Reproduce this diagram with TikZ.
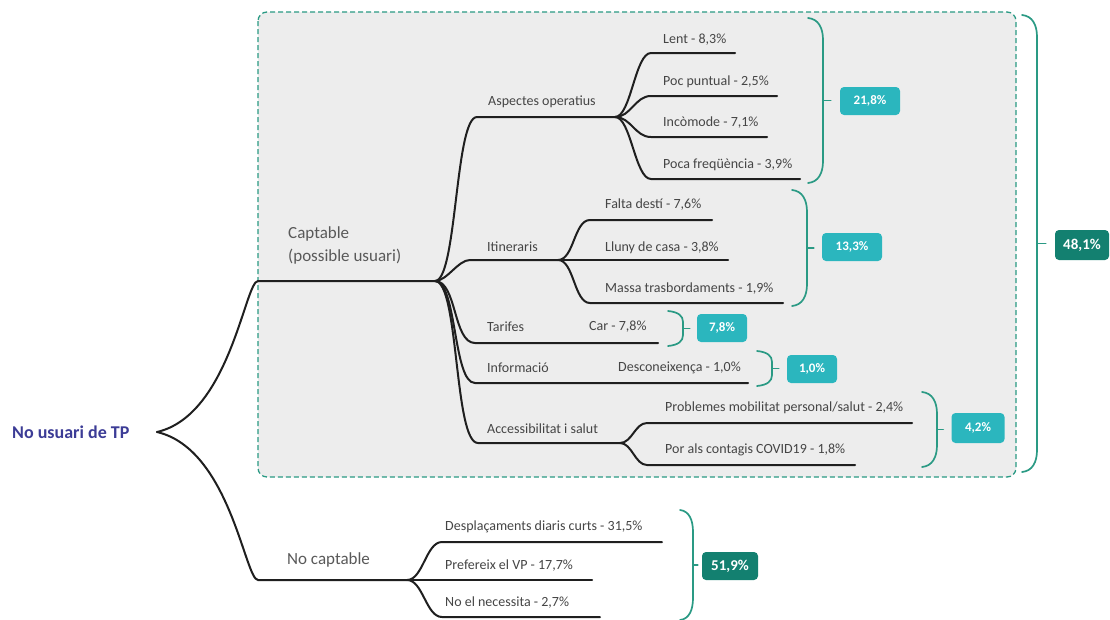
\documentclass[tikz,border=0pt]{standalone}
\usepackage{fontspec}
\setmainfont{Carlito}
\usepackage{xcolor}
\usepackage{tikz}
\usetikzlibrary{positioning,calc}
\definecolor{tealline}{HTML}{2A9A84}
\definecolor{panelgrey}{HTML}{EDEDED}
\definecolor{pctlight}{HTML}{2BB6BE}
\definecolor{pctdark}{HTML}{138070}
\definecolor{rootblue}{HTML}{3C3C96}
\definecolor{labelgrey}{HTML}{454545}
% curly bracket closing a group: [width]{x of the ends}{top}{bottom}{tip name}
\newcommand{\pctbrace}[5][15]{%
  \pgfmathsetmacro{\bx}{#2+#1}
  \pgfmathsetmacro{\bm}{(#3+#4)/2}
  \pgfmathsetmacro{\bc}{min(22,(#4-#3)/3.2)}
  \draw[brc] (#2,#3) .. controls (#2+0.7*#1,#3+1) and (\bx,#3+0.45*\bc) .. (\bx,#3+\bc)
    -- (\bx,#4-\bc) .. controls (\bx,#4-0.45*\bc) and (#2+0.7*#1,#4-1) .. (#2,#4);
  \coordinate (#5) at (\bx,\bm);
}

\begin{document}
\begin{tikzpicture}[
  x=1pt, y=-1pt,
  tree/.style={line width=2pt, draw=black!88, line cap=round},
  twig/.style={out=0, in=180, distance=#1},
  twig/.default=16pt,
  brc/.style={line width=1.7pt, draw=tealline, line cap=round},
  leaf/.style={anchor=west, inner sep=0pt, text=labelgrey, font=\fontsize{14}{16}\selectfont},
  group/.style={leaf, text=black!65, align=left, font=\fontsize{17}{23}\selectfont},
  pct/.style={rounded corners=4pt, fill=pctlight, text=white, inner sep=0pt,
              minimum height=28pt, font=\bfseries\fontsize{13}{15}\selectfont},
  total/.style={pct, fill=pctdark, font=\bfseries\fontsize{15}{17}\selectfont}
]
\fill[white] (0,0) rectangle (1110,619);
\useasboundingbox (0,0) rectangle (1110,619);

% panel of the captable group
\draw[tealline, dash pattern=on 5pt off 3pt, line width=1.3pt, fill=panelgrey, rounded corners=9pt]
  (258,12) rectangle (1016,477);

% root
\coordinate (root) at (157,432);
\node[anchor=west, inner sep=0pt, text=rootblue, font=\bfseries\fontsize{18}{20}\selectfont] (nouser) at (12,432) {No usuari de TP};

% captable
\coordinate (cap-in) at (258,281);
\coordinate (cap) at (435,281);
\node[group, anchor=north west] (captable) at (288,226) {Captable\\(possible usuari)};
\draw[tree] (root) .. controls +(73,-17) and +(-13,0) .. (cap-in) -- (cap);

% no captable
\coordinate (ncap-in) at (258,580);
\coordinate (ncap) at (407,580);
\node[group] (nocaptable) at (287,560) {No captable};
\draw[tree] (root) .. controls +(73,17) and +(-13,0) .. (ncap-in) -- (ncap);

% aspectes operatius
\coordinate (aop-in) at (477,117);
\coordinate (aop) at (615,117);
\node[leaf] (aspectes) at (488,102) {Aspectes operatius};
\draw[tree] (cap) to[twig=22pt] (aop-in) -- (aop);
\coordinate (lent-in) at (651,53);   \coordinate (lent-e) at (735,53);
\coordinate (punt-in) at (651,96);   \coordinate (punt-e) at (777,96);
\coordinate (incom-in) at (651,137); \coordinate (incom-e) at (767,137);
\coordinate (freq-in) at (651,179);  \coordinate (freq-e) at (800,179);
\node[leaf] (lent) at (663,40) {Lent - 8,3\%};
\node[leaf] (punt) at (663,82) {Poc puntual - 2,5\%};
\node[leaf] (incom) at (663,123) {Incòmode - 7,1\%};
\node[leaf] (freq) at (663,165) {Poca freqüència - 3,9\%};
\draw[tree] (aop) to[twig] (lent-in) -- (lent-e);
\draw[tree] (aop) to[twig] (punt-in) -- (punt-e);
\draw[tree] (aop) to[twig] (incom-in) -- (incom-e);
\draw[tree] (aop) to[twig] (freq-in) -- (freq-e);

% itineraris
\coordinate (itin-in) at (470,260);
\coordinate (itin) at (558,260);
\node[leaf] (itineraris) at (487,247) {Itineraris};
\draw[tree] (cap) to[twig=12pt] (itin-in) -- (itin);
\coordinate (falta-in) at (590,220); \coordinate (falta-e) at (712,220);
\coordinate (lluny-e) at (728,260);
\coordinate (massa-in) at (590,303); \coordinate (massa-e) at (783,303);
\node[leaf] (falta) at (605,205) {Falta destí - 7,6\%};
\node[leaf] (lluny) at (605,248) {Lluny de casa - 3,8\%};
\node[leaf] (massa) at (605,289) {Massa trasbordaments - 1,9\%};
\draw[tree] (itin) to[twig] (falta-in) -- (falta-e);
\draw[tree] (itin) -- (lluny-e);
\draw[tree] (itin) to[twig] (massa-in) -- (massa-e);

% tarifes
\coordinate (tar-in) at (475,343);
\coordinate (tar-e) at (658,343);
\node[leaf] (tarifes) at (487,327) {Tarifes};
\node[leaf] (car) at (589,327) {Car - 7,8\%};
\draw[tree] (cap) to[twig=22pt] (tar-in) -- (tar-e);

% informacio
\coordinate (inf-in) at (475,383);
\coordinate (inf-e) at (748,383);
\node[leaf] (informacio) at (487,368) {Informació};
\node[leaf] (descon) at (618,368) {Desconeixença - 1,0\%};
\draw[tree] (cap) to[twig=22pt] (inf-in) -- (inf-e);

% accessibilitat i salut
\coordinate (acc-in) at (478,443);
\coordinate (acc) at (620,443);
\node[leaf] (accessib) at (487,429) {Accessibilitat i salut};
\draw[tree] (cap) to[twig=24pt] (acc-in) -- (acc);
\coordinate (prob-in) at (647,423);  \coordinate (prob-e) at (912,423);
\coordinate (covid-in) at (647,465); \coordinate (covid-e) at (855,465);
\node[leaf] (prob) at (665,408) {Problemes mobilitat personal/salut - 2,4\%};
\node[leaf] (covid) at (665,450) {Por als contagis COVID19 - 1,8\%};
\draw[tree] (acc) to[twig=12pt] (prob-in) -- (prob-e);
\draw[tree] (acc) to[twig=12pt] (covid-in) -- (covid-e);

% no captable leaves
\coordinate (desp-in) at (442,542);  \coordinate (desp-e) at (662,542);
\coordinate (pref-e) at (592,580);
\coordinate (nonec-in) at (442,617); \coordinate (nonec-e) at (600,617);
\node[leaf] (desp) at (445,527) {Desplaçaments diaris curts - 31,5\%};
\node[leaf] (pref) at (445,566) {Prefereix el VP - 17,7\%};
\node[leaf] (nonec) at (445,603) {No el necessita - 2,7\%};
\draw[tree] (ncap) to[twig] (desp-in) -- (desp-e);
\draw[tree] (ncap) -- (pref-e);
\draw[tree] (ncap) to[twig] (nonec-in) -- (nonec-e);

% percentages
\node[pct, minimum width=60pt] (p-aop) at (870,101) {21,8\%};
\node[pct, minimum width=60pt] (p-itin) at (852,247) {13,3\%};
\node[pct, minimum width=50pt] (p-tar) at (722,328) {7,8\%};
\node[pct, minimum width=50pt] (p-inf) at (812,369) {1,0\%};
\node[pct, minimum width=53pt, minimum height=30pt] (p-acc) at (978,428) {4,2\%};
\node[total, minimum width=54pt, minimum height=30pt] (t-cap) at (1082,245) {48,1\%};
\node[total, minimum width=56pt] (t-ncap) at (730,566) {51,9\%};

\pctbrace{808}{18}{183}{b-aop}
\pctbrace{792}{190}{306}{b-itin}
\pctbrace{668}{311}{346}{b-tar}
\pctbrace{757}{351}{386}{b-inf}
\pctbrace{922}{392}{467}{b-acc}
\pctbrace{1022}{15}{472}{b-cap}
\pctbrace[13]{680}{510}{620}{b-ncap}
\draw[brc, shorten >=9pt] (b-aop) -- (b-aop -| p-aop.west);
\draw[brc, shorten >=8pt] (b-itin) -- (b-itin -| p-itin.west);
\draw[brc, shorten >=7pt] (b-tar) -- (b-tar -| p-tar.west);
\draw[brc, shorten >=8pt] (b-inf) -- (b-inf -| p-inf.west);
\draw[brc, shorten >=8pt] (b-acc) -- (b-acc -| p-acc.west);
\draw[brc, shorten >=9pt] (b-cap) -- (b-cap -| t-cap.west);
\draw[brc, shorten >=4pt] (b-ncap) -- (b-ncap -| t-ncap.west);
\end{tikzpicture}
\end{document}
